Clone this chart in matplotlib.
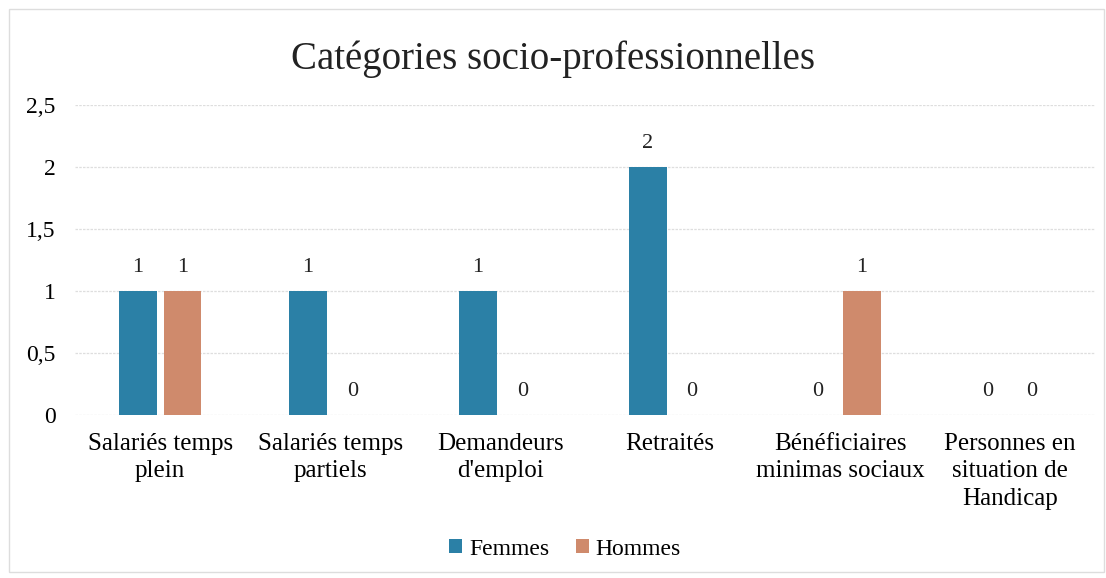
import numpy as np
import matplotlib.pyplot as plt
from matplotlib.patches import Rectangle

# ========= DATA =========
categories = ['Salariés temps\nplein', 'Salariés temps\npartiels', 'Demandeurs\nd\'emploi',
              'Retraités', 'Bénéficiaires\nminimas sociaux', 'Personnes en\nsituation de\nHandicap']
femmes = [1, 1, 1, 2, 0, 0]
hommes = [1, 0, 0, 0, 1, 0]
yticks = [0, 0.5, 1, 1.5, 2, 2.5]

col_f = '#2b80a6'
col_h = '#cf8a6c'

plt.rcParams['font.family'] = ['Liberation Serif', 'DejaVu Serif']

fig = plt.figure(figsize=(11.06, 5.78), dpi=100)
ax = fig.add_axes([0.068, 0.282, 0.922, 0.536])

x = np.arange(len(categories))
w = 0.22
gap = 0.04
bars_f = ax.bar(x - (w + gap) / 2, femmes, w, color=col_f, label='Femmes', zorder=3)
bars_h = ax.bar(x + (w + gap) / 2, hommes, w, color=col_h, label='Hommes', zorder=3)

for bars in (bars_f, bars_h):
    for b in bars:
        ax.annotate(f'{b.get_height():g}', (b.get_x() + b.get_width() / 2, b.get_height()),
                    xytext=(0, 10), textcoords='offset points', ha='center', va='bottom',
                    fontsize=16, color='#222222')

ax.set_xlim(-0.5, len(categories) - 0.5)
ax.set_ylim(0, 2.5)
ax.set_yticks(yticks)
ax.set_yticklabels([f'{v:g}'.replace('.', ',') for v in yticks], fontsize=17)
ax.set_xticks(x)
ax.set_xticklabels(categories, fontsize=18, linespacing=1.32)
ax.tick_params(length=0, pad=13)
ax.tick_params(axis='y', pad=14)
for s in ax.spines.values():
    s.set_visible(False)
ax.grid(axis='y', color='#dedede', linestyle=(0, (2, 1)), linewidth=0.9, zorder=0)

fig.suptitle('Catégories socio-professionnelles', y=0.93, fontsize=28, color='#222222')

fig.legend(handles=[bars_f, bars_h], labels=['Femmes', 'Hommes'], loc='center',
           bbox_to_anchor=(0.511, 0.05), ncol=2, frameon=False, fontsize=17,
           handlelength=0.55, handleheight=0.55, handletextpad=0.3, columnspacing=1.1)

fig.patches.append(Rectangle((0.008, 0.01), 0.99, 0.975, transform=fig.transFigure,
                             fill=False, edgecolor='#dddddd', linewidth=1))

fig.savefig('out.png', dpi=100)
